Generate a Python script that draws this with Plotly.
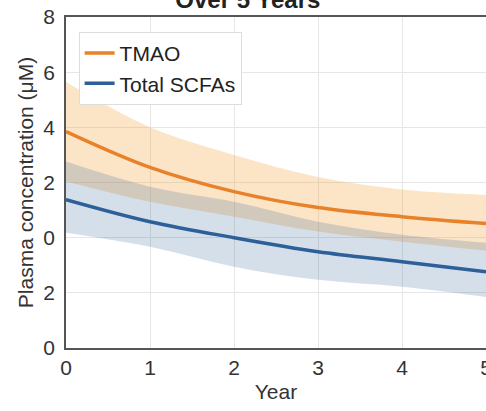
import plotly.graph_objects as go

years = [0, 1, 2, 3, 4, 5]
tmao_mean = [3.85, 2.55, 1.67, 1.09, 0.76, 0.51]
tmao_upper = [5.64, 4.0, 3.0, 2.2, 1.75, 1.55]
tmao_lower = [2.04, 1.3, 0.76, 0.22, -0.15, -0.47]
scfa_mean = [1.38, 0.58, 0.0, -0.51, -0.87, -1.24]
scfa_upper = [2.76, 1.85, 1.3, 0.58, 0.11, -0.18]
scfa_lower = [0.18, -0.33, -1.05, -1.53, -1.78, -2.15]

ytick_vals = [-4, -2, 0, 2, 4, 6, 8]
ytick_text = ["0", "2", "0", "2", "4", "6", "8"]
xtick_vals = [0, 1, 2, 3, 4, 5]

orange = "#E8822A"
blue = "#2D5F98"
orange_fill = "rgba(245,165,70,0.30)"
blue_fill = "rgba(46,94,150,0.20)"
FONT = "Liberation Sans"

fig = go.Figure()
fig.add_trace(go.Scatter(x=years, y=tmao_upper, mode="lines", line=dict(width=0, shape="spline"),
                         showlegend=False, hoverinfo="skip"))
fig.add_trace(go.Scatter(x=years, y=tmao_lower, mode="lines", line=dict(width=0, shape="spline"),
                         fill="tonexty", fillcolor=orange_fill, showlegend=False, hoverinfo="skip"))
fig.add_trace(go.Scatter(x=years, y=scfa_upper, mode="lines", line=dict(width=0, shape="spline"),
                         showlegend=False, hoverinfo="skip"))
fig.add_trace(go.Scatter(x=years, y=scfa_lower, mode="lines", line=dict(width=0, shape="spline"),
                         fill="tonexty", fillcolor=blue_fill, showlegend=False, hoverinfo="skip"))
fig.add_trace(go.Scatter(x=years, y=tmao_mean, mode="lines", name="TMAO",
                         line=dict(color=orange, width=3.5, shape="spline")))
fig.add_trace(go.Scatter(x=years, y=scfa_mean, mode="lines", name="Total SCFAs",
                         line=dict(color=blue, width=3.5, shape="spline")))

fig.update_layout(
    width=486, height=411,
    margin=dict(l=66, r=0, t=17, b=63),
    paper_bgcolor="white", plot_bgcolor="white",
    font=dict(family=FONT, size=20, color="#333333"),
    title=dict(text="<b>Over 5 Years</b>", x=0.51, xanchor="center",
               y=1 - 8 / 411, yanchor="bottom", font=dict(size=24, color="#222222")),
    legend=dict(x=0.03, y=0.955, xanchor="left", yanchor="top", traceorder="normal",
                bgcolor="white", bordercolor="#DDDDDD", borderwidth=1,
                font=dict(size=21, color="#222222"), tracegroupgap=0),
    showlegend=True,
)
fig.update_xaxes(range=[0, 5], tickvals=xtick_vals, showgrid=True, gridcolor="#E6E6E6",
                 showline=True, linecolor="#555555", linewidth=1.5, mirror=True,
                 zeroline=False, ticks="", automargin=False, ticklabeloverflow="allow",
                 title=dict(text="Year", standoff=6, font=dict(size=21)),
                 tickfont=dict(size=21))
fig.update_yaxes(range=[-4, 8], tickvals=ytick_vals, ticktext=ytick_text, showgrid=True,
                 gridcolor="#E6E6E6", showline=True, linecolor="#555555", linewidth=1.5,
                 zeroline=False, ticks="", ticklabelstandoff=5, automargin=False,
                 title=dict(text="Plasma concentration (μM)", standoff=4, font=dict(size=21)),
                 tickfont=dict(size=21))

fig.write_html("out.html", config={"displayModeBar": False},
               post_script="document.body.style.margin='0';document.body.style.overflow='hidden';")
